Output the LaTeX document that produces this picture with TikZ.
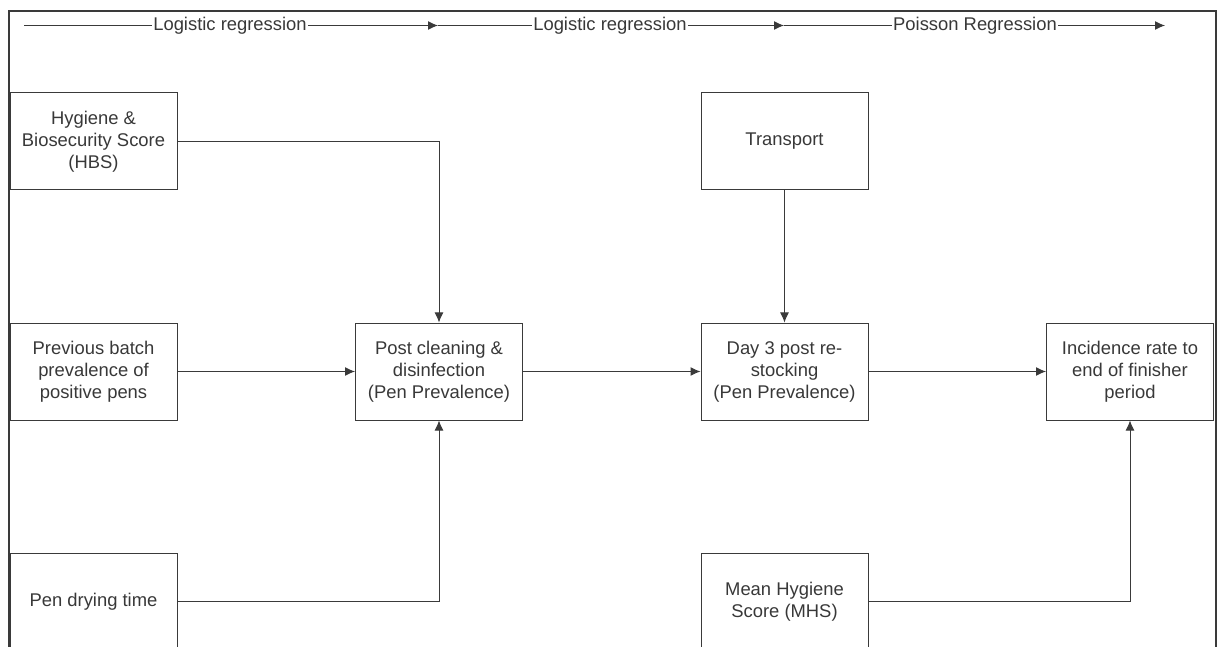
\documentclass[tikz,border=0pt]{standalone}
\usepackage{fontspec}
\setmainfont{Liberation Sans}
\usetikzlibrary{arrows.meta}
\definecolor{txt}{HTML}{383838}
\definecolor{ln}{HTML}{3A3A3A}
\begin{document}
\begin{tikzpicture}[x=1pt,y=-1pt,
  every node/.style={font=\fontsize{18.4}{22}\selectfont, text=txt},
  box/.style={draw=ln, line width=1pt, minimum width=167pt, minimum height=97pt, inner sep=0pt, align=center},
  lab/.style={inner sep=1pt},
  conn/.style={draw=ln, line width=1pt},
  arr/.style={conn, -{Latex[length=10pt,width=9pt]}}]
\useasboundingbox (0,0) rectangle (1219,647);
% frame
\draw[ln, line width=1.2pt] (9,660) -- (9,11) -- (1216,11) -- (1216,660);
% top regression line
\coordinate (s0) at (24,25.5);
\node[lab] (L1) at (230,25.5) {Logistic regression};
\coordinate (a1) at (438,25.5);
\node[lab] (L2) at (610,25.5) {Logistic regression};
\coordinate (a2) at (784,25.5);
\node[lab] (L3) at (975,25.5) {Poisson Regression};
\coordinate (a3) at (1165,25.5);
\draw[conn] (s0) -- (L1.west);
\draw[arr] (L1.east) -- (a1);
\draw[conn] (a1) -- (L2.west);
\draw[arr] (L2.east) -- (a2);
\draw[conn] (a2) -- (L3.west);
\draw[arr] (L3.east) -- (a3);
% boxes
\node[box] (hbs) at (93.5,141.5) {Hygiene \&\\Biosecurity Score\\(HBS)};
\node[box] (prev) at (93.5,371.5) {Previous batch\\prevalence of\\positive pens};
\node[box] (dry) at (93.5,601.5) {Pen drying time};
\node[box] (post) at (439,371.5) {Post cleaning \&\\disinfection\\(Pen Prevalence)};
\node[box] (trans) at (784.5,141.5) {Transport};
\node[box] (day3) at (784.5,371.5) {Day 3 post re-\\stocking\\(Pen Prevalence)};
\node[box] (mhs) at (784.5,601.5) {Mean Hygiene\\Score (MHS)};
\node[box] (inc) at (1130,371.5) {Incidence rate to\\end of finisher\\period};
% connectors
\draw[arr] (hbs.east) -| (post.north);
\draw[arr] (prev.east) -- (post.west);
\draw[arr] (dry.east) -| (post.south);
\draw[arr] (post.east) -- (day3.west);
\draw[arr] (trans.south) -- (day3.north);
\draw[arr] (day3.east) -- (inc.west);
\draw[arr] (mhs.east) -| (inc.south);
\end{tikzpicture}
\end{document}
